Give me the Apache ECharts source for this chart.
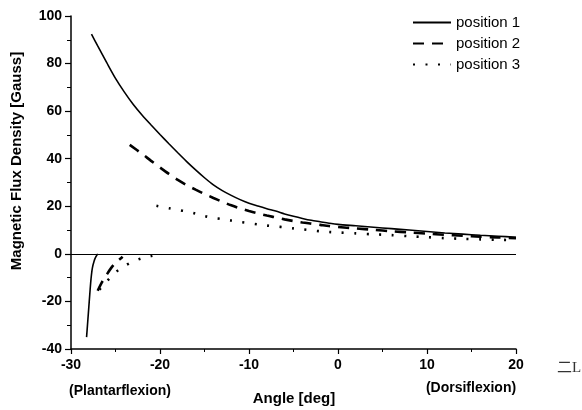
<!DOCTYPE html>
<html>
<head>
<meta charset="utf-8">
<script src="https://cdn.jsdelivr.net/npm/echarts@6/dist/echarts.min.js"></script>
<style>html,body{margin:0;padding:0;background:#fff}#c{width:582px;height:410px}</style>
</head>
<body>
<div id="c"></div>
<script>
// ---- data ----
var xTicks = [-30, -20, -10, 0, 10, 20];
var yTicks = [-40, -20, 0, 20, 40, 60, 80, 100];
var seriesNames = ['position 1', 'position 2', 'position 3'];

var pos1Angle = [-27.7, -27, -26, -25, -24, -23, -22, -21, -20, -19, -18, -17, -16, -15, -14, -13, -12, -11, -10, -9, -8, -7, -6, -5, -4, -3, -2, -1, 0, 2, 4, 6, 8, 10, 12, 14, 16, 18, 20];
var pos1Flux  = [92.4, 87.4, 80.5, 73.8, 68, 62.8, 58.3, 54.2, 50.2, 46.3, 42.5, 38.8, 35.3, 32, 29, 26.6, 24.6, 22.8, 21.3, 20.1, 19.0, 18.0, 16.8, 15.8, 14.9, 14.1, 13.5, 12.9, 12.4, 11.8, 11.2, 10.6, 10.0, 9.4, 8.8, 8.3, 7.8, 7.4, 7.0];
var pos1NegAngle = [-28.25, -28.15, -28.05, -27.95, -27.85, -27.75, -27.6, -27.4, -27.2, -27.0];
var pos1NegFlux  = [-35, -30, -25, -20, -15, -10.5, -6, -3, -1.2, 0];

var pos2Angle = [-23.4, -22, -21, -20, -19, -18, -17, -16, -15, -14, -13, -12, -11, -10, -9, -8, -7, -6, -5, -4, -3, -2, -1, 0, 2, 4, 6, 8, 10, 12, 14, 16, 18, 20];
var pos2Flux  = [45.8, 42, 39.1, 36.3, 33.6, 31.1, 28.9, 27.0, 25.2, 23.5, 21.9, 20.4, 19.1, 18.0, 17.0, 16.1, 15.3, 14.5, 13.8, 13.2, 12.7, 12.2, 11.7, 11.3, 10.7, 10.1, 9.5, 9.0, 8.5, 8.0, 7.6, 7.2, 6.9, 6.6];
var pos2NegAngle = [-27, -26.5, -26, -25.5, -25, -24.5, -24.2];
var pos2NegFlux  = [-15.5, -11.8, -8.8, -6.0, -3.8, -2.2, -1.2];

var pos3Angle = [-20.4, -19, -18, -17, -16, -15, -14, -13, -12, -11, -10, -9, -8, -7, -6, -5, -4, -3, -2, -1, 0, 2, 4, 6, 8, 10, 12, 14, 16, 18, 20];
var pos3Flux  = [20.2, 19.2, 18.5, 17.8, 16.9, 15.9, 15.2, 14.6, 14.0, 13.4, 12.9, 12.4, 11.9, 11.5, 11.2, 10.7, 10.3, 9.9, 9.5, 9.2, 9.0, 8.6, 8.2, 7.9, 7.4, 7.0, 6.6, 6.3, 6.1, 5.9, 5.8];
var pos3NegAngle = [-26.8, -26, -25, -24, -23, -22, -21, -20.5];
var pos3NegFlux  = [-15, -11.6, -7.8, -5.1, -3.2, -1.8, -0.9, -0.5];

var yTitle = 'Magnetic Flux Density [Gauss]';
var xTitle = 'Angle [deg]';
var leftNote = '(Plantarflexion)';
var rightNote = '(Dorsiflexion)';
var cornerMark = '二L';

// ---- build ----
function pairs(xs, ys) { return xs.map(function (x, i) { return [x, ys[i]]; }); }
var FONT = 'Arial, "Liberation Sans", Helvetica, sans-serif';
var styles = [
  { type: 'solid', width: 1.6 },
  { type: [11, 8], width: 2.6 },
  { type: [2, 10.5], width: 2.6 }
];
function mk(name, data, st, extra) {
  var s = {
    name: name, type: 'line', data: data, symbol: 'none', smooth: 0.3,
    lineStyle: { color: '#000', width: st.width, type: st.type },
    itemStyle: { color: '#000' }, silent: true, animation: false
  };
  if (extra) for (var k in extra) s[k] = extra[k];
  return s;
}
var series = [
  mk(seriesNames[0], pairs(pos1Angle, pos1Flux), styles[0], {
    markLine: { silent: true, symbol: 'none', label: { show: false },
      lineStyle: { color: '#000', width: 1, type: 'solid' }, data: [{ yAxis: 0 }], animation: false }
  }),
  mk(seriesNames[1], pairs(pos2Angle, pos2Flux), styles[1]),
  mk(seriesNames[2], pairs(pos3Angle, pos3Flux), styles[2]),
  mk(seriesNames[0], pairs(pos1NegAngle, pos1NegFlux), styles[0]),
  mk(seriesNames[1], pairs(pos2NegAngle, pos2NegFlux), styles[1]),
  mk(seriesNames[2], pairs(pos3NegAngle, pos3NegFlux), styles[2])
];

var chart = echarts.init(document.getElementById('c'), null, { renderer: 'canvas' });
chart.setOption({
  backgroundColor: '#fff',
  animation: false,
  grid: { left: 71, right: 66, top: 16, bottom: 61, containLabel: false },
  legend: {
    data: seriesNames, orient: 'vertical', left: 412, top: 15, padding: 0,
    itemWidth: 38, itemHeight: 14, itemGap: 6,
    itemStyle: { opacity: 0 },
    textStyle: { color: '#000', fontSize: 15, fontFamily: FONT }
  },
  xAxis: {
    type: 'value', min: xTicks[0], max: xTicks[xTicks.length - 1], interval: 10,
    axisLine: { onZero: false, lineStyle: { color: '#000', width: 1.5 } },
    axisTick: { inside: false, length: 5, lineStyle: { color: '#000', width: 1.2 } },
    minorTick: { show: true, splitNumber: 2, length: 3, lineStyle: { color: '#000', width: 1 } },
    splitLine: { show: false },
    axisLabel: { color: '#000', fontSize: 14, fontWeight: 'bold', fontFamily: FONT, margin: 9 }
  },
  yAxis: {
    type: 'value', min: yTicks[0], max: yTicks[yTicks.length - 1], interval: 20,
    axisLine: { show: true, onZero: false, lineStyle: { color: '#000', width: 1.5 } },
    axisTick: { show: true, inside: false, length: 6, lineStyle: { color: '#000', width: 1.2 } },
    minorTick: { show: true, splitNumber: 2, length: 4, lineStyle: { color: '#000', width: 1 } },
    splitLine: { show: false },
    axisLabel: { color: '#000', fontSize: 14, fontWeight: 'bold', fontFamily: FONT, margin: 9 }
  },
  graphic: [
    { type: 'text', x: 17, y: 161, rotation: Math.PI / 2,
      style: { text: yTitle, font: 'bold 15px ' + FONT, fill: '#000', textAlign: 'center', textVerticalAlign: 'middle' } },
    { type: 'text', x: 294, y: 399,
      style: { text: xTitle, font: 'bold 15px ' + FONT, fill: '#000', textAlign: 'center', textVerticalAlign: 'middle' } },
    { type: 'text', x: 120, y: 391,
      style: { text: leftNote, font: 'bold 14px ' + FONT, fill: '#000', textAlign: 'center', textVerticalAlign: 'middle' } },
    { type: 'text', x: 471, y: 388,
      style: { text: rightNote, font: 'bold 14px ' + FONT, fill: '#000', textAlign: 'center', textVerticalAlign: 'middle' } },
    { type: 'text', x: 569, y: 368,
      style: { text: cornerMark, font: '15px "Liberation Serif", "Noto Sans CJK SC", serif', fill: '#333', textAlign: 'center', textVerticalAlign: 'middle' } }
  ],
  series: series
});
</script>
</body>
</html>
